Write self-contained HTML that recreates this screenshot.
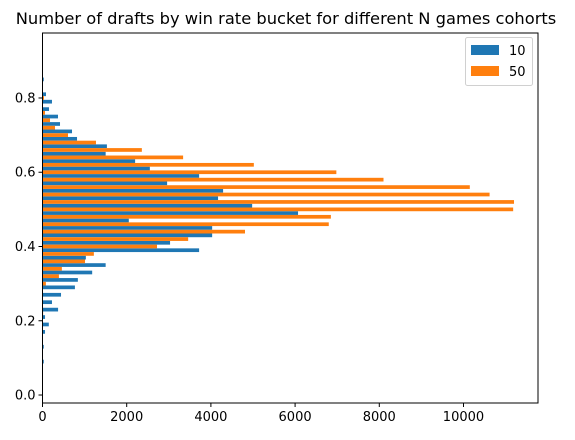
<!DOCTYPE html>
<html><head><meta charset="utf-8">
<style>
html,body{margin:0;padding:0;background:#fff;}
svg text{font-family:"DejaVu Sans","Liberation Sans",sans-serif;fill:#000;}
</style></head>
<body>
<svg id="chart" width="575" height="435" viewBox="0 0 575 435" xmlns="http://www.w3.org/2000/svg">
<text x="286" y="24" text-anchor="middle" font-size="16.3">Number of drafts by win rate bucket for different N games cohorts</text>
<g id="bars"></g>
<g id="axes"></g>
<g>
<rect x="465.5" y="37.5" width="67" height="48" rx="2" fill="#fff" stroke="#d0d0d0"/>
<rect x="471" y="45" width="28" height="10" fill="#1f77b4"/>
<text x="509" y="55" font-size="13">10</text>
<rect x="471" y="66" width="28" height="10" fill="#ff7f0e"/>
<text x="509" y="76" font-size="13">50</text>
</g>
</svg>
<script>
const blueBuckets = [0.85,0.81,0.79,0.77,0.75,0.73,0.71,0.69,0.67,0.65,0.63,0.61,0.59,0.57,0.55,0.53,0.51,0.49,0.47,0.45,0.43,0.41,0.39,0.37,0.35,0.33,0.31,0.29,0.27,0.25,0.23,0.21,0.19,0.17,0.13,0.09];
const blueValues = [30,83,225,154,368,416,701,820,1530,1500,2200,2550,3720,2960,4290,4170,4980,6070,2050,4030,4030,3030,3720,1030,1500,1180,840,770,440,225,370,60,150,60,30,30];
const orangeBuckets = [0.80,0.76,0.74,0.72,0.70,0.68,0.66,0.64,0.62,0.60,0.58,0.56,0.54,0.52,0.50,0.48,0.46,0.44,0.42,0.40,0.38,0.36,0.34,0.32,0.30,0.22];
const orangeValues = [35,59,178,297,606,1270,2360,3340,5020,6980,8100,10150,10620,11200,11180,6850,6800,4810,3460,2720,1220,1010,460,390,80,15];
const xTicks = [0,2000,4000,6000,8000,10000];
const yTicks = [0.0,0.2,0.4,0.6,0.8];

const L=42.5,R=538,T=33,B=403;
const xMin=0,xMax=11770,yMin=-0.0215,yMax=0.975;
const barH=0.01;
function xs(v){return L+(v-xMin)/(xMax-xMin)*(R-L);}
function ys(v){return B-(v-yMin)/(yMax-yMin)*(B-T);}
const NS="http://www.w3.org/2000/svg";
const bars=document.getElementById('bars');
function drawBars(bk,vals,color,name){
  bk.forEach((b,i)=>{
    const r=document.createElementNS(NS,'rect');
    const y1=ys(b+barH/2),y2=ys(b-barH/2);
    r.setAttribute('x',xs(0));
    r.setAttribute('y',y1);
    r.setAttribute('width',Math.max(0,xs(vals[i])-xs(0)));
    r.setAttribute('height',y2-y1);
    r.setAttribute('fill',color);
    
    
    bars.appendChild(r);
  });
}
drawBars(blueBuckets,blueValues,'#1f77b4','n10');
drawBars(orangeBuckets,orangeValues,'#ff7f0e','n50');
const axes=document.getElementById('axes');
const frame=document.createElementNS(NS,'rect');
frame.setAttribute('x',L);frame.setAttribute('y',T);frame.setAttribute('width',R-L);frame.setAttribute('height',B-T);
frame.setAttribute('fill','none');frame.setAttribute('stroke','#000');frame.setAttribute('stroke-width','1');


axes.appendChild(frame);
xTicks.forEach(t=>{
  const x=xs(t);
  const l=document.createElementNS(NS,'line');
  l.setAttribute('x1',x);l.setAttribute('x2',x);l.setAttribute('y1',B);l.setAttribute('y2',B+4);l.setAttribute('stroke','#000');
  
  
  axes.appendChild(l);
  const tx=document.createElementNS(NS,'text');
  tx.setAttribute('x',x);tx.setAttribute('y',B+18);tx.setAttribute('text-anchor','middle');tx.setAttribute('font-size','13');
  tx.textContent=t;
  
  
  axes.appendChild(tx);
});
yTicks.forEach(t=>{
  const y=ys(t);
  const l=document.createElementNS(NS,'line');
  l.setAttribute('x1',L-4);l.setAttribute('x2',L);l.setAttribute('y1',y);l.setAttribute('y2',y);l.setAttribute('stroke','#000');
  
  
  axes.appendChild(l);
  const tx=document.createElementNS(NS,'text');
  tx.setAttribute('x',L-7);tx.setAttribute('y',y+4.5);tx.setAttribute('text-anchor','end');tx.setAttribute('font-size','13');
  tx.textContent=t.toFixed(1);
  
  
  axes.appendChild(tx);
});
</script>
</body></html>
